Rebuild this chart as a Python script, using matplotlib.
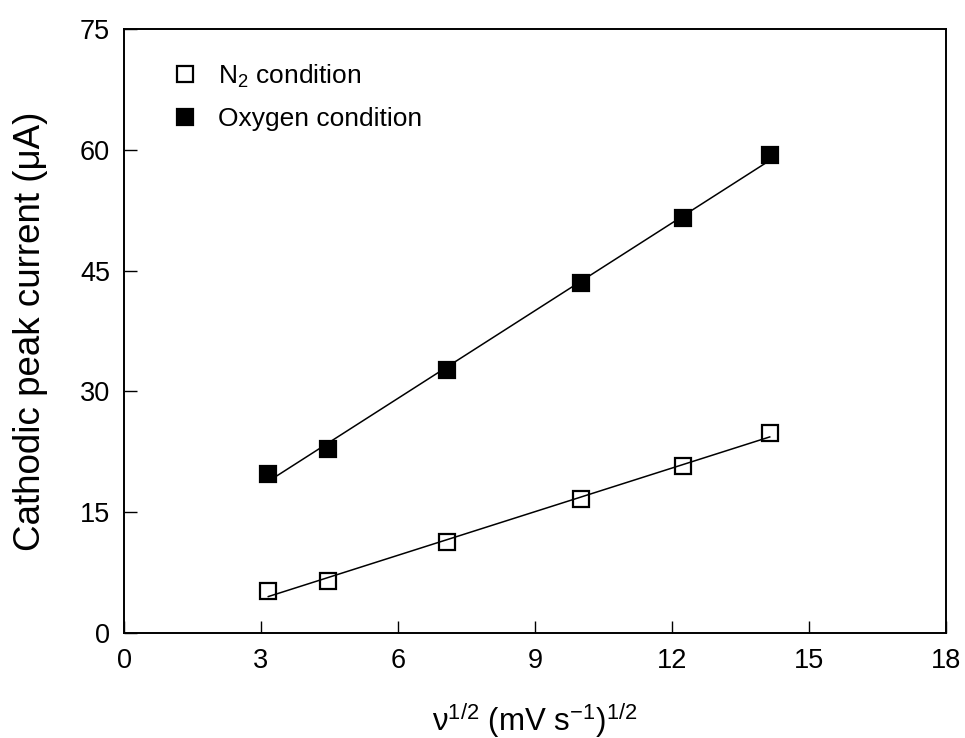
import numpy as np
import matplotlib
matplotlib.use("Agg")
import matplotlib.pyplot as plt

plt.rcParams['font.family'] = ['Liberation Sans', 'DejaVu Sans']
plt.rcParams['mathtext.fontset'] = 'custom'
plt.rcParams['mathtext.rm'] = 'Liberation Sans'
plt.rcParams['mathtext.it'] = 'Liberation Sans'
plt.rcParams['mathtext.bf'] = 'Liberation Sans:bold'

# Data
sqrt_scan_rate = [3.16, 4.47, 7.07, 10.0, 12.25, 14.14]
n2_current = [5.2, 6.45, 11.3, 16.7, 20.7, 24.8]
o2_current = [19.8, 22.9, 32.7, 43.4, 51.5, 59.3]
x_ticks = [0, 3, 6, 9, 12, 15, 18]
y_ticks = [0, 15, 30, 45, 60, 75]
labels = ["N$_2$ condition", "Oxygen condition"]

fig = plt.figure(figsize=(9.65, 7.38), dpi=100)
ax = fig.add_axes([124/965, 1 - 633/738, (946-124)/965, (633-29)/738])

x = np.array(sqrt_scan_rate)
for yv in (o2_current, n2_current):
    p = np.polyfit(x, np.array(yv), 1)
    ax.plot(x, np.polyval(p, x), color='black', lw=1.1, zorder=2)

ax.plot(x, n2_current, ls='none', marker='s', ms=12, mfc='none', mec='black',
        mew=1.6, label=labels[0], zorder=3)
ax.plot(x, o2_current, ls='none', marker='s', ms=12, mfc='black', mec='black',
        mew=1.6, label=labels[1], zorder=3)

ax.set_xlim(0, 18)
ax.set_ylim(0, 75)
ax.set_xticks(x_ticks)
ax.set_yticks(y_ticks)
ax.tick_params(direction='in', length=9, width=1.0, labelsize=19.5,
               top=False, right=False)
ax.tick_params(axis='x', pad=11)
ax.tick_params(axis='y', pad=10)
for s in ax.spines.values():
    s.set_linewidth(1.4)

ax.set_ylabel("Cathodic peak current (\u03bcA)", fontsize=26.5)
ax.yaxis.set_label_coords(-0.092, 0.5)
ax.set_xlabel("\u03bd$^{1/2}$ (mV s$^{-1}$)$^{1/2}$", fontsize=22.5)
ax.xaxis.set_label_coords(0.5, -0.112)

leg = ax.legend(loc='upper left', bbox_to_anchor=(0.048, 0.962), frameon=False,
                fontsize=19, handlelength=0.8, handletextpad=0.85,
                labelspacing=0.66, borderaxespad=0)

fig.savefig("out.png", dpi=100)
